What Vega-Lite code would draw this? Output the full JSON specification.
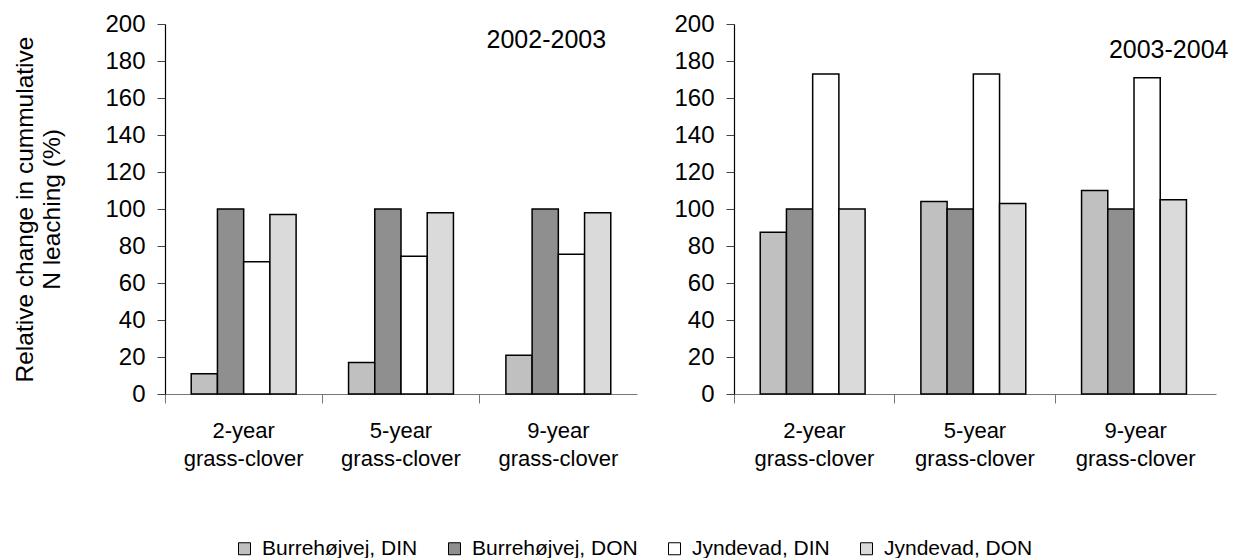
{
  "$schema": "https://vega.github.io/schema/vega-lite/v6.json",
  "padding": {"left": 12, "top": 12, "right": 10, "bottom": 4},
  "datasets": {
    "leaching": [
      {"period": "2002-2003", "crop": "2-year grass-clover", "series": "Burrehøjvej, DIN", "value": 11},
      {"period": "2002-2003", "crop": "2-year grass-clover", "series": "Burrehøjvej, DON", "value": 100},
      {"period": "2002-2003", "crop": "2-year grass-clover", "series": "Jyndevad, DIN", "value": 71.5},
      {"period": "2002-2003", "crop": "2-year grass-clover", "series": "Jyndevad, DON", "value": 97},
      {"period": "2002-2003", "crop": "5-year grass-clover", "series": "Burrehøjvej, DIN", "value": 17},
      {"period": "2002-2003", "crop": "5-year grass-clover", "series": "Burrehøjvej, DON", "value": 100},
      {"period": "2002-2003", "crop": "5-year grass-clover", "series": "Jyndevad, DIN", "value": 74.5},
      {"period": "2002-2003", "crop": "5-year grass-clover", "series": "Jyndevad, DON", "value": 98},
      {"period": "2002-2003", "crop": "9-year grass-clover", "series": "Burrehøjvej, DIN", "value": 21},
      {"period": "2002-2003", "crop": "9-year grass-clover", "series": "Burrehøjvej, DON", "value": 100},
      {"period": "2002-2003", "crop": "9-year grass-clover", "series": "Jyndevad, DIN", "value": 75.5},
      {"period": "2002-2003", "crop": "9-year grass-clover", "series": "Jyndevad, DON", "value": 98},
      {"period": "2003-2004", "crop": "2-year grass-clover", "series": "Burrehøjvej, DIN", "value": 87.5},
      {"period": "2003-2004", "crop": "2-year grass-clover", "series": "Burrehøjvej, DON", "value": 100},
      {"period": "2003-2004", "crop": "2-year grass-clover", "series": "Jyndevad, DIN", "value": 173},
      {"period": "2003-2004", "crop": "2-year grass-clover", "series": "Jyndevad, DON", "value": 100},
      {"period": "2003-2004", "crop": "5-year grass-clover", "series": "Burrehøjvej, DIN", "value": 104},
      {"period": "2003-2004", "crop": "5-year grass-clover", "series": "Burrehøjvej, DON", "value": 100},
      {"period": "2003-2004", "crop": "5-year grass-clover", "series": "Jyndevad, DIN", "value": 173},
      {"period": "2003-2004", "crop": "5-year grass-clover", "series": "Jyndevad, DON", "value": 103},
      {"period": "2003-2004", "crop": "9-year grass-clover", "series": "Burrehøjvej, DIN", "value": 110},
      {"period": "2003-2004", "crop": "9-year grass-clover", "series": "Burrehøjvej, DON", "value": 100},
      {"period": "2003-2004", "crop": "9-year grass-clover", "series": "Jyndevad, DIN", "value": 171},
      {"period": "2003-2004", "crop": "9-year grass-clover", "series": "Jyndevad, DON", "value": 105}
    ],
    "labels": [
      {"period": "2002-2003", "crop": "9-year grass-clover", "value": 191.5},
      {"period": "2003-2004", "crop": "9-year grass-clover", "value": 186}
    ]
  },
  "hconcat": [
    {
      "width": 472,
      "height": 370,
      "encoding": {
        "x": {
          "field": "crop", "type": "nominal",
          "scale": {"paddingInner": 0, "paddingOuter": 0},
          "axis": {"title": null, "labelAngle": 0, "labelExpr": "split(datum.label, ' ')", "bandPosition": 0}
        },
        "y": {
          "field": "value", "type": "quantitative",
          "scale": {"domain": [0, 200], "nice": false},
          "axis": {
            "values": [0, 20, 40, 60, 80, 100, 120, 140, 160, 180, 200],
            "labelOverlap": false,
            "title": ["Relative change in cummulative", "N leaching (%)"]
          }
        }
      },
      "layer": [
        {
          "data": {"name": "leaching"},
          "transform": [{"filter": "datum.period == '2002-2003'"}],
          "mark": {"type": "bar", "stroke": "black", "strokeWidth": 1.5},
          "encoding": {
            "xOffset": {
              "field": "series", "type": "nominal",
              "sort": ["Burrehøjvej, DIN", "Burrehøjvej, DON", "Jyndevad, DIN", "Jyndevad, DON"],
              "scale": {"paddingInner": 0, "paddingOuter": 1.14}
            },
            "color": {
              "field": "series", "type": "nominal",
              "scale": {
                "domain": ["Burrehøjvej, DIN", "Burrehøjvej, DON", "Jyndevad, DIN", "Jyndevad, DON"],
                "range": ["#c0c0c0", "#8f8f8f", "#ffffff", "#dadada"]
              },
              "legend": {"title": null, "orient": "none", "direction": "horizontal", "legendX": 69, "legendY": 514}
            }
          }
        },
        {
          "data": {"name": "labels"},
          "transform": [{"filter": "datum.period == '2002-2003'"}],
          "mark": {"type": "text", "fontSize": 25, "dx": -12},
          "encoding": {
            "text": {"field": "period"}
          }
        }
      ]
    },
    {
      "width": 482,
      "height": 370,
      "encoding": {
        "x": {
          "field": "crop", "type": "nominal",
          "scale": {"paddingInner": 0, "paddingOuter": 0},
          "axis": {"title": null, "labelAngle": 0, "labelExpr": "split(datum.label, ' ')", "bandPosition": 0}
        },
        "y": {
          "field": "value", "type": "quantitative",
          "scale": {"domain": [0, 200], "nice": false},
          "axis": {
            "values": [0, 20, 40, 60, 80, 100, 120, 140, 160, 180, 200],
            "labelOverlap": false,
            "title": null
          }
        }
      },
      "layer": [
        {
          "data": {"name": "leaching"},
          "transform": [{"filter": "datum.period == '2003-2004'"}],
          "mark": {"type": "bar", "stroke": "black", "strokeWidth": 1.5},
          "encoding": {
            "xOffset": {
              "field": "series", "type": "nominal",
              "sort": ["Burrehøjvej, DIN", "Burrehøjvej, DON", "Jyndevad, DIN", "Jyndevad, DON"],
              "scale": {"paddingInner": 0, "paddingOuter": 1.14}
            },
            "color": {
              "field": "series", "type": "nominal",
              "scale": {
                "domain": ["Burrehøjvej, DIN", "Burrehøjvej, DON", "Jyndevad, DIN", "Jyndevad, DON"],
                "range": ["#c0c0c0", "#8f8f8f", "#ffffff", "#dadada"]
              },
              "legend": {"title": null, "orient": "none", "direction": "horizontal", "legendX": 69, "legendY": 514}
            }
          }
        },
        {
          "data": {"name": "labels"},
          "transform": [{"filter": "datum.period == '2003-2004'"}],
          "mark": {"type": "text", "fontSize": 25, "dx": 33},
          "encoding": {
            "text": {"field": "period"}
          }
        }
      ]
    }
  ],
  "spacing": 36,
  "resolve": {"scale": {"color": "shared"}},
  "config": {
    "font": "Liberation Sans",
    "view": {"stroke": null},
    "text": {"font": "Liberation Sans", "color": "black"},
    "axis": {
      "labelFont": "Liberation Sans",
      "titleFont": "Liberation Sans",
      "labelFontSize": 24,
      "titleFontSize": 24.5,
      "titleFontWeight": "normal",
      "labelColor": "black",
      "titleColor": "black",
      "grid": false,
      "domainColor": "black",
      "tickColor": "#444444",
      "domainWidth": 1.2
    },
    "axisX": {
      "labelFontSize": 22,
      "domainColor": "#777777",
      "tickColor": "#777777",
      "tickSize": 9,
      "labelPadding": 17,
      "labelLineHeight": 28
    },
    "axisY": {"tickSize": 8, "labelPadding": 12, "titlePadding": 40, "titleLineHeight": 27},
    "legend": {
      "labelFont": "Liberation Sans",
      "labelFontSize": 21,
      "labelColor": "black",
      "labelLimit": 400,
      "symbolType": "square",
      "symbolSize": 144,
      "symbolStrokeColor": "black",
      "symbolStrokeWidth": 1,
      "columnPadding": 26,
      "labelOffset": 7
    }
  }
}
